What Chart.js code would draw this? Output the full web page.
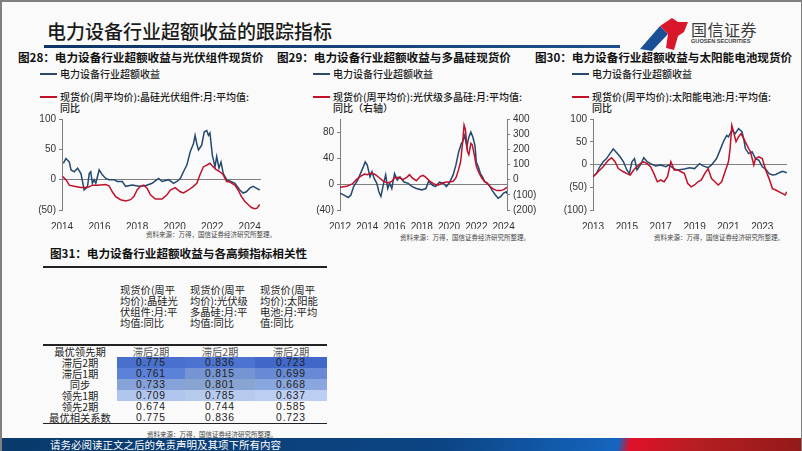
<!DOCTYPE html>
<html><head><meta charset="utf-8">
<script src="https://cdn.jsdelivr.net/npm/chart.js@4/dist/chart.umd.min.js"></script>
<style>
html,body{margin:0;padding:0;}
body{width:802px;height:451px;background:#808080;position:relative;overflow:hidden;font-family:"Noto Sans CJK SC","Liberation Sans",sans-serif;}
#page{position:absolute;left:2px;top:2px;width:799px;height:449px;background:#fafafa;}
.abs{position:absolute;white-space:nowrap;}
.ttl{font-size:11.6px;font-weight:bold;color:#111;}
.lg{font-size:10px;font-weight:500;color:#1a1a1a;line-height:11px;}
.sw{position:absolute;height:2px;width:17px;}
.src{font-size:6.5px;color:#444;}
canvas{position:absolute;}
table{border-collapse:collapse;position:absolute;left:43px;top:344px;width:284px;table-layout:fixed;font-size:10.3px;}
td{padding:0;height:11px;line-height:11px;text-align:center;color:#222;}
.num{font-family:"Liberation Sans",sans-serif;letter-spacing:0.8px;}
</style></head>
<body>
<div id="page"></div>
<!-- header -->
<div class="abs" style="left:47px;top:17px;font-size:19px;color:#1a1a1a;font-weight:500;">电力设备行业超额收益的跟踪指标</div>
<div class="abs" style="left:44px;top:45px;width:576px;height:3px;background:linear-gradient(90deg,#0f3566,#1d4f8c);"></div>
<svg class="abs" style="left:638px;top:16px;" width="52" height="36" viewBox="0 0 52 36">
  <polygon points="2,33 22,10 30,18 14,35" fill="#1a4f96"/>
  <polygon points="22,10 34,2 40,6 50,6 46,16 40,20 36,34 28,32 30,18" fill="#d8182a"/>
</svg>
<div class="abs" style="left:691px;top:17px;font-size:16px;color:#3a3a3a;letter-spacing:0.5px;">国信证券</div>
<div class="abs" style="left:691px;top:38px;font-size:5.6px;color:#3a3a3a;font-family:'Liberation Sans';font-weight:bold;">GUOSEN SECURITIES</div>

<!-- chart 28 texts -->
<div class="abs ttl" style="left:18px;top:49px;">图28：电力设备行业超额收益与光伏组件现货价</div>
<div class="sw" style="left:40px;top:73px;background:#2b4a6b;"></div>
<div class="abs lg" style="left:60px;top:68px;">电力设备行业超额收益</div>
<div class="sw" style="left:40px;top:96px;background:#c0102a;"></div>
<div class="abs lg" style="left:60px;top:91px;">现货价(周平均价):晶硅光伏组件:月:平均值:<br>同比</div>
<div class="abs src" style="left:146px;top:229px;">资料来源：万得，国信证券经济研究所整理。</div>

<!-- chart 29 texts -->
<div class="abs ttl" style="left:277px;top:49px;">图29：电力设备行业超额收益与多晶硅现货价</div>
<div class="sw" style="left:313px;top:73px;background:#2b4a6b;"></div>
<div class="abs lg" style="left:333px;top:68px;">电力设备行业超额收益</div>
<div class="sw" style="left:313px;top:96px;background:#c0102a;"></div>
<div class="abs lg" style="left:333px;top:91px;">现货价(周平均价):光伏级多晶硅:月:平均值:<br>同比（右轴）</div>
<div class="abs src" style="left:400px;top:232px;">资料来源：万得，国信证券经济研究所整理。</div>

<!-- chart 30 texts -->
<div class="abs ttl" style="left:535px;top:49px;">图30：电力设备行业超额收益与太阳能电池现货价</div>
<div class="sw" style="left:572px;top:73px;background:#2b4a6b;"></div>
<div class="abs lg" style="left:592px;top:68px;">电力设备行业超额收益</div>
<div class="sw" style="left:572px;top:96px;background:#c0102a;"></div>
<div class="abs lg" style="left:592px;top:91px;">现货价(周平均价):太阳能电池:月:平均值:<br>同比</div>
<div class="abs src" style="left:654px;top:232px;">资料来源：万得，国信证券经济研究所整理。</div>

<canvas id="c28" width="252" height="119" style="left:14px;top:110px;"></canvas>
<canvas id="c29" width="240" height="119" style="left:300px;top:110px;"></canvas>
<canvas id="c30" width="245" height="119" style="left:553px;top:110px;"></canvas>

<!-- table 31 -->
<div class="abs ttl" style="left:50px;top:245px;">图31：电力设备行业超额收益与各高频指标相关性</div>
<div class="abs" style="left:43px;top:266px;width:284px;height:1.5px;background:#222;"></div>
<div id="hdr"></div>
<table id="tbl"></table>
<div class="abs src" style="left:147px;top:429px;">资料来源：万得，国信证券经济研究所整理。</div>

<!-- footer -->
<div class="abs" style="left:2px;top:438px;width:799px;height:13px;background:linear-gradient(100deg,#0a3a6c 0%,#0c4584 55%,#1565c0 77%,#e0102a 78.5%,#b81e22 86%,#931a1a 100%);"></div>
<div class="abs" style="left:50px;top:437px;font-size:10.5px;color:#fff;">请务必阅读正文之后的免责声明及其项下所有内容</div>

<script>
// ---------- DATA ----------
// Fig 28: 电力设备行业超额收益 vs 晶硅光伏组件现货价同比 (%)
const c28Years = [2014,2016,2018,2020,2022,2024];
const c28BlueT = [2014.07,2014.21,2014.39,2014.48,2014.65,2014.83,2015.01,2015.18,2015.36,2015.45,2015.53,2015.62,2015.71,2015.80,2015.98,2016.15,2016.33,2016.50,2016.77,2016.95,2017.21,2017.39,2017.74,2018.09,2018.44,2018.80,2018.97,2019.15,2019.33,2019.68,2019.94,2020.12,2020.30,2020.47,2020.65,2020.83,2021.00,2021.09,2021.18,2021.27,2021.44,2021.58,2021.71,2021.80,2021.88,2022.01,2022.15,2022.24,2022.36,2022.47,2022.59,2022.77,2022.99,2023.21,2023.47,2023.65,2023.82,2024.00,2024.18,2024.35,2024.53];
const c28Blue  = [27,35,29,16,13,19,10,-17,-11,10,13,-6,0,-6,16,8,2,0,0,-3,-3,-11,-9,-11,-10,-6,-2,2,-3,0,-6,-3,2,13,24,46,59,73,59,49,57,79,81,73,77,40,21,38,19,29,10,0,-3,-6,-17,-22,-20,-14,-11,-14,-17];
const c28RedT  = [2014.04,2014.21,2014.39,2014.65,2015.00,2015.36,2015.62,2015.89,2016.33,2016.50,2016.68,2016.86,2017.12,2017.39,2017.65,2017.83,2018.00,2018.18,2018.36,2018.53,2018.71,2018.97,2019.33,2019.59,2019.77,2020.03,2020.30,2020.47,2020.74,2021.00,2021.18,2021.35,2021.53,2021.71,2021.88,2022.06,2022.24,2022.41,2022.59,2022.77,2022.94,2023.21,2023.38,2023.56,2023.74,2023.91,2024.09,2024.26,2024.39,2024.53];
const c28Red   = [5,0,-9,-11,-13,-13,-9,-9,-8,-10,-20,-28,-33,-35,-33,-28,-17,-11,-9,-14,-25,-32,-32,-25,-17,-13,-20,-22,-17,-11,-6,8,21,24,27,21,16,13,8,-3,-4,-9,-17,-28,-36,-41,-46,-48,-47,-41];

// Fig 29: 超额收益 (左轴) vs 光伏级多晶硅现货价同比 (右轴)
const c29Years = [2012,2014,2016,2018,2020,2022,2024];
const c29BlueT = [2012.0,2012.3,2012.6,2012.8,2013.0,2013.3,2013.5,2013.7,2013.85,2014.0,2014.2,2014.35,2014.5,2014.7,2014.85,2015.0,2015.2,2015.35,2015.5,2015.65,2015.8,2016.0,2016.2,2016.4,2016.7,2017.0,2017.3,2017.6,2018.0,2018.3,2018.5,2018.8,2019.0,2019.3,2019.6,2019.8,2020.0,2020.3,2020.5,2020.7,2020.9,2021.0,2021.15,2021.3,2021.45,2021.6,2021.75,2021.9,2022.0,2022.15,2022.3,2022.45,2022.6,2022.8,2023.0,2023.2,2023.4,2023.6,2023.8,2024.0,2024.2,2024.25];
const c29Blue  = [-14,-17,-21,-17,-4,6,16,26,34,29,11,19,9,1,-12,-19,1,14,-7,1,-7,16,6,11,3,1,-4,-7,-9,-7,4,-2,-4,3,1,-4,1,14,29,49,62,65,75,57,72,80,72,59,34,26,16,11,4,1,-4,-11,-17,-22,-19,-14,-12,-15];
const c29RedT  = [2012.0,2012.5,2012.9,2013.2,2013.5,2013.8,2014.0,2014.3,2014.6,2014.9,2015.2,2015.5,2015.8,2016.0,2016.3,2016.6,2016.9,2017.1,2017.3,2017.6,2017.9,2018.1,2018.3,2018.6,2018.9,2019.2,2019.5,2019.8,2020.0,2020.3,2020.5,2020.7,2020.85,2021.0,2021.1,2021.2,2021.35,2021.45,2021.6,2021.7,2021.85,2022.0,2022.2,2022.4,2022.6,2022.8,2023.0,2023.2,2023.5,2023.8,2024.0,2024.25];
const c29Red   = [-50,-44,-28,0,22,37,33,44,33,11,-11,-22,-11,11,15,0,15,33,11,-7,22,28,15,-11,-28,-37,-22,-15,-15,-11,11,66,120,250,360,330,185,165,240,230,165,88,44,11,-11,-22,-44,-59,-72,-72,-66,-50];

// Fig 30: 超额收益 vs 太阳能电池现货价同比
const c30Years = [2013,2015,2017,2019,2021,2023];
const c30BlueT = [2013.0,2013.2,2013.4,2013.6,2013.8,2014.0,2014.2,2014.4,2014.6,2014.8,2015.0,2015.15,2015.3,2015.45,2015.6,2015.8,2016.0,2016.2,2016.4,2016.7,2017.0,2017.3,2017.5,2017.8,2018.0,2018.4,2018.7,2019.0,2019.3,2019.5,2019.8,2020.0,2020.3,2020.5,2020.7,2020.9,2021.0,2021.2,2021.4,2021.6,2021.8,2021.9,2022.0,2022.2,2022.4,2022.6,2022.8,2023.0,2023.2,2023.4,2023.6,2023.8,2024.0,2024.2,2024.45];
const c30Blue  = [-27,-20,-5,6,13,24,34,26,17,6,-12,-20,6,13,-12,-1,15,6,2,-3,-1,-5,-1,-10,-12,-10,-7,-9,2,-3,-7,-1,13,31,50,64,61,75,68,79,72,57,35,24,28,13,9,-5,-10,-20,-23,-22,-18,-15,-18];
const c30RedT  = [2013.0,2013.3,2013.6,2013.9,2014.1,2014.3,2014.5,2014.8,2015.0,2015.2,2015.4,2015.6,2015.8,2016.0,2016.2,2016.4,2016.6,2016.8,2017.0,2017.2,2017.4,2017.6,2017.8,2018.0,2018.2,2018.4,2018.6,2018.8,2019.0,2019.2,2019.4,2019.6,2019.8,2020.0,2020.2,2020.4,2020.6,2020.8,2021.0,2021.1,2021.2,2021.3,2021.45,2021.6,2021.75,2021.9,2022.1,2022.3,2022.5,2022.6,2022.8,2023.0,2023.2,2023.4,2023.6,2023.8,2024.0,2024.2,2024.35,2024.45];
const c30Red   = [-27,-16,-5,9,15,6,-9,-16,-20,-23,-12,-5,2,6,2,-5,-20,-38,-34,-38,-27,6,-12,-12,-16,-20,-42,-49,-45,-38,-34,-20,-9,-31,-38,-45,-38,-16,6,35,86,72,50,61,68,57,42,28,-1,13,17,13,-12,-31,-53,-56,-60,-64,-67,-60];

// Fig 31 table
const tblCols = ["现货价(周平<br>均价):晶硅光<br>伏组件:月:平<br>均值:同比","现货价(周平<br>均价):光伏级<br>多晶硅:月:平<br>均值:同比","现货价(周平<br>均价):太阳能<br>电池:月:平均<br>值:同比"];
const tblRowLabels = ["滞后2期","滞后1期","同步","领先1期","领先2期","最优相关系数"];
const bestLead = ["滞后2期","滞后2期","滞后2期"];
const corrModule  = [0.775,0.761,0.733,0.709,0.674,0.775];
const corrPoly    = [0.836,0.815,0.801,0.785,0.744,0.836];
const corrCell    = [0.723,0.699,0.668,0.637,0.585,0.723];

// ---------- STYLE ----------
const BLUE = '#24496e', RED = '#c0102a', AX = '#7f7f7f';
const TICKFONT = {family:'Liberation Sans', size:10};
const fmt = v => v < 0 ? '(' + (-v) + ')' : String(v);
const pts = (t, v) => t.map((x, i) => ({x: x, y: v[i]}));

function xScale(min, max, years) {
  return {type:'linear', min:min, max:max, position:'bottom',
    grid:{display:false}, border:{display:false},
    afterBuildTicks: s => { s.ticks = years.map(v => ({value:v})); },
    ticks:{font:TICKFONT, color:'#333', padding:3, maxRotation:0, autoSkip:false,
      callback: v => String(Math.round(v))},
    afterFit: s => { s.height = 19; }};
}
function yScale(min, max, step, pos, width, zero) {
  return {type:'linear', min:min, max:max, position:pos,
    border:{display:true, color:AX, width:1},
    grid:{drawOnChartArea: zero, drawTicks:true, tickLength:3, tickColor:AX, lineWidth:1,
      color: c => (c.tick && c.tick.value === 0) ? AX : 'rgba(0,0,0,0)'},
    ticks:{stepSize:step, includeBounds:false, font:TICKFONT, color:'#333', padding:3, callback: fmt},
    afterFit: s => { s.width = width; }};
}
function ds(data, color, axis, order) {
  const d = {data:data, borderColor:color, borderWidth:1.5, pointRadius:0, tension:0, fill:false, order:order};
  if (axis) d.yAxisID = axis;
  return d;
}
const base = (pad) => ({responsive:false, animation:false, devicePixelRatio:1,
  layout:{padding:pad}, plugins:{legend:{display:false}, tooltip:{enabled:false}}});

new Chart(document.getElementById('c28'), {type:'line',
  data:{datasets:[ds(pts(c28BlueT,c28Blue),BLUE,null,2), ds(pts(c28RedT,c28Red),RED,null,1)]},
  options:Object.assign(base({left:0,right:5,top:0,bottom:0}), {scales:{
    x:xScale(2014,2024.6,c28Years), y:yScale(-50,100,50,'left',48,true)}})});

new Chart(document.getElementById('c29'), {type:'line',
  data:{datasets:[ds(pts(c29BlueT,c29Blue),BLUE,'y',2), ds(pts(c29RedT,c29Red),RED,'y2',1)]},
  options:Object.assign(base({left:0,right:0,top:0,bottom:0}), {scales:{
    x:xScale(2012,2024.25,c29Years), y:yScale(-40,100,40,'left',40,true), y2:yScale(-200,400,100,'right',33,false)}})});

new Chart(document.getElementById('c30'), {type:'line',
  data:{datasets:[ds(pts(c30BlueT,c30Blue),BLUE,null,2), ds(pts(c30RedT,c30Red),RED,null,1)]},
  options:Object.assign(base({left:0,right:11,top:0,bottom:0}), {scales:{
    x:xScale(2013,2024.46,c30Years), y:yScale(-100,100,50,'left',40,true)}})});

// ---------- TABLE ----------
const hdr = document.getElementById('hdr');
const hx = [120,190,260];
tblCols.forEach((h, i) => {
  const d = document.createElement('div');
  d.className = 'abs';
  d.style.cssText = 'left:' + hx[i] + 'px;top:284px;font-size:10.3px;line-height:11px;color:#222;';
  d.innerHTML = h;
  hdr.appendChild(d);
});
const heat = [
  ['#4870cc','#4b73cf','#4168c8'],
  ['#5b81d8','#7594d2','#6889d5'],
  ['#87a2d9','#89a4d0','#8aa6de'],
  ['#afc5ee','#b6caee','#bccff2']
];
const tbl = document.getElementById('tbl');
let html = '<colgroup><col style="width:74px"><col style="width:68px"><col style="width:70px"><col style="width:72px"></colgroup>';
html += '<tr style="border-top:2px solid #222;"><td>最优领先期</td>' + bestLead.map(s => '<td style="color:#555">' + s + '</td>').join('') + '</tr>';
const cols = [corrModule, corrPoly, corrCell];
tblRowLabels.forEach((lab, r) => {
  const last = r === tblRowLabels.length - 1;
  html += '<tr' + (last ? ' style="border-bottom:1.5px solid #222;"' : '') + '><td>' + lab + '</td>';
  cols.forEach((c, j) => {
    const bg = r < heat.length ? 'background:' + heat[r][j] + ';' : '';
    html += '<td class="num" style="' + bg + '">' + c[r].toFixed(3) + '</td>';
  });
  html += '</tr>';
});
tbl.innerHTML = html;
</script>
</body></html>
